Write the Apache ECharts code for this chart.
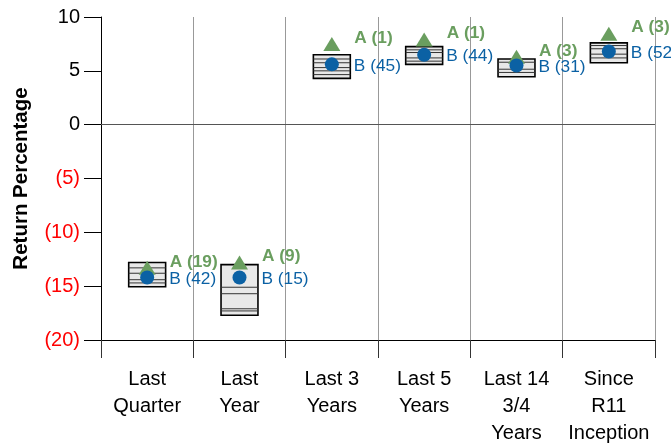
<!DOCTYPE html>
<html>
<head>
<meta charset="utf-8">
<script src="https://cdn.jsdelivr.net/npm/echarts@6/dist/echarts.min.js"></script>
<style>
  html, body { margin: 0; padding: 0; background: #fff; }
  #chart-container { width: 671px; height: 443px; }
</style>
</head>
<body>
<div id="chart-container"></div>
<script>
// data
const categories = ['Last\nQuarter', 'Last\nYear', 'Last 3\nYears', 'Last 5\nYears', 'Last 14\n3/4\nYears', 'Since\nR11\nInception'];
const boxHigh = [-12.8, -13.0, 6.5, 7.25, 6.1, 7.6];
const boxLow = [-15.05, -17.7, 4.3, 5.6, 4.45, 5.75];
const boxLines = [
  [-13.3, -13.8, -14.4, -14.7],
  [-15.1, -15.7, -17.1, -17.3],
  [6.1, 5.75, 5.3, 5.0, 4.65],
  [6.95, 6.7, 6.2, 5.9],
  [5.8, 5.15, 4.85],
  [7.35, 7.05, 6.55, 6.2]
];
const aValues = [-13.3, -12.8, 7.5, 7.9, 6.3, 8.45];
const aCounts = [19, 9, 1, 1, 3, 3];
const bValues = [-14.2, -14.2, 5.6, 6.5, 5.5, 6.8];
const bCounts = [42, 15, 45, 44, 31, 52];
const yTicks = { min: -20, max: 10, interval: 5 };

var dom = document.getElementById("chart-container");
var myChart = echarts.init(dom, null, { renderer: "canvas" });

const green = '#6a9e5f';
const blue = '#0b61a4';
const axisFont = 20;

var option = {
  animation: false,
  textStyle: { fontFamily: 'Liberation Sans, Arial, sans-serif' },
  grid: { left: 101, right: 16, top: 17, bottom: 103, outerBoundsMode: 'none', containLabel: false },
  xAxis: {
    type: 'category',
    data: categories,
    boundaryGap: true,
    axisLine: { onZero: false, lineStyle: { color: '#000', width: 1 } },
    axisTick: { show: true, length: 18, lineStyle: { color: '#333' } },
    splitLine: { show: true, lineStyle: { color: '#999', width: 1 } },
    axisLabel: { fontSize: axisFont, color: '#000', lineHeight: 27, margin: 26, interval: 0 }
  },
  yAxis: {
    type: 'value',
    min: yTicks.min,
    max: yTicks.max,
    interval: yTicks.interval,
    name: 'Return Percentage',
    nameLocation: 'middle',
    nameGap: 69,
    nameTextStyle: { fontSize: 20.5, fontWeight: 'bold', color: '#000' },
    axisLine: { show: true, lineStyle: { color: '#000' } },
    axisTick: { show: true, length: 17, lineStyle: { color: '#000' } },
    splitLine: { show: false },
    axisLabel: {
      fontSize: axisFont,
      margin: 21,
      color: function (v) { return v < 0 ? '#ff0000' : '#000'; },
      formatter: function (v) { return v < 0 ? '(' + (-v) + ')' : String(v); }
    }
  },
  series: [
    {
      name: 'Range',
      type: 'custom',
      data: categories.map(function (c, i) { return [i, boxHigh[i], boxLow[i]]; }),
      encode: { x: 0, y: [1, 2] },
      renderItem: function (params, api) {
        var i = api.value(0);
        var top = api.coord([i, api.value(1)]);
        var bot = api.coord([i, api.value(2)]);
        var w = api.size([1, 0])[0] * 0.4;
        var children = [{
          type: 'rect',
          shape: { x: top[0] - w / 2, y: top[1], width: w, height: bot[1] - top[1] },
          style: { fill: '#e8e8e8', stroke: '#000', lineWidth: 1.6 }
        }];
        boxLines[i].forEach(function (v) {
          var p = api.coord([i, v]);
          children.push({
            type: 'line',
            shape: { x1: top[0] - w / 2, y1: p[1], x2: top[0] + w / 2, y2: p[1] },
            style: { stroke: '#333', lineWidth: 1 }
          });
        });
        return { type: 'group', children: children };
      },
      markLine: {
        silent: true,
        symbol: 'none',
        label: { show: false },
        lineStyle: { color: '#555', width: 1, type: 'solid' },
        data: [{ yAxis: 0 }]
      },
      z: 2
    },
    {
      name: 'A',
      type: 'scatter',
      symbol: 'triangle',
      symbolSize: [17, 14],
      itemStyle: { color: green, opacity: 1 },
      data: aValues.map(function (v, i) { return { value: [i, v], count: aCounts[i] }; }),
      label: {
        show: true,
        position: 'right',
        distance: 14,
        offset: [0, -6],
        fontSize: 17.3,
        fontWeight: 'bold',
        color: green,
        formatter: function (p) { return 'A (' + p.data.count + ')'; }
      },
      z: 3
    },
    {
      name: 'B',
      type: 'scatter',
      symbol: 'circle',
      symbolSize: 14,
      itemStyle: { color: blue, opacity: 1 },
      data: bValues.map(function (v, i) { return { value: [i, v], count: bCounts[i] }; }),
      label: {
        show: true,
        position: 'right',
        distance: 15,
        offset: [0, 2],
        fontSize: 17.3,
        color: blue,
        formatter: function (p) { return 'B (' + p.data.count + ')'; }
      },
      z: 4
    }
  ]
};

myChart.setOption(option);
window.addEventListener("resize", myChart.resize);
</script>
</body>
</html>
